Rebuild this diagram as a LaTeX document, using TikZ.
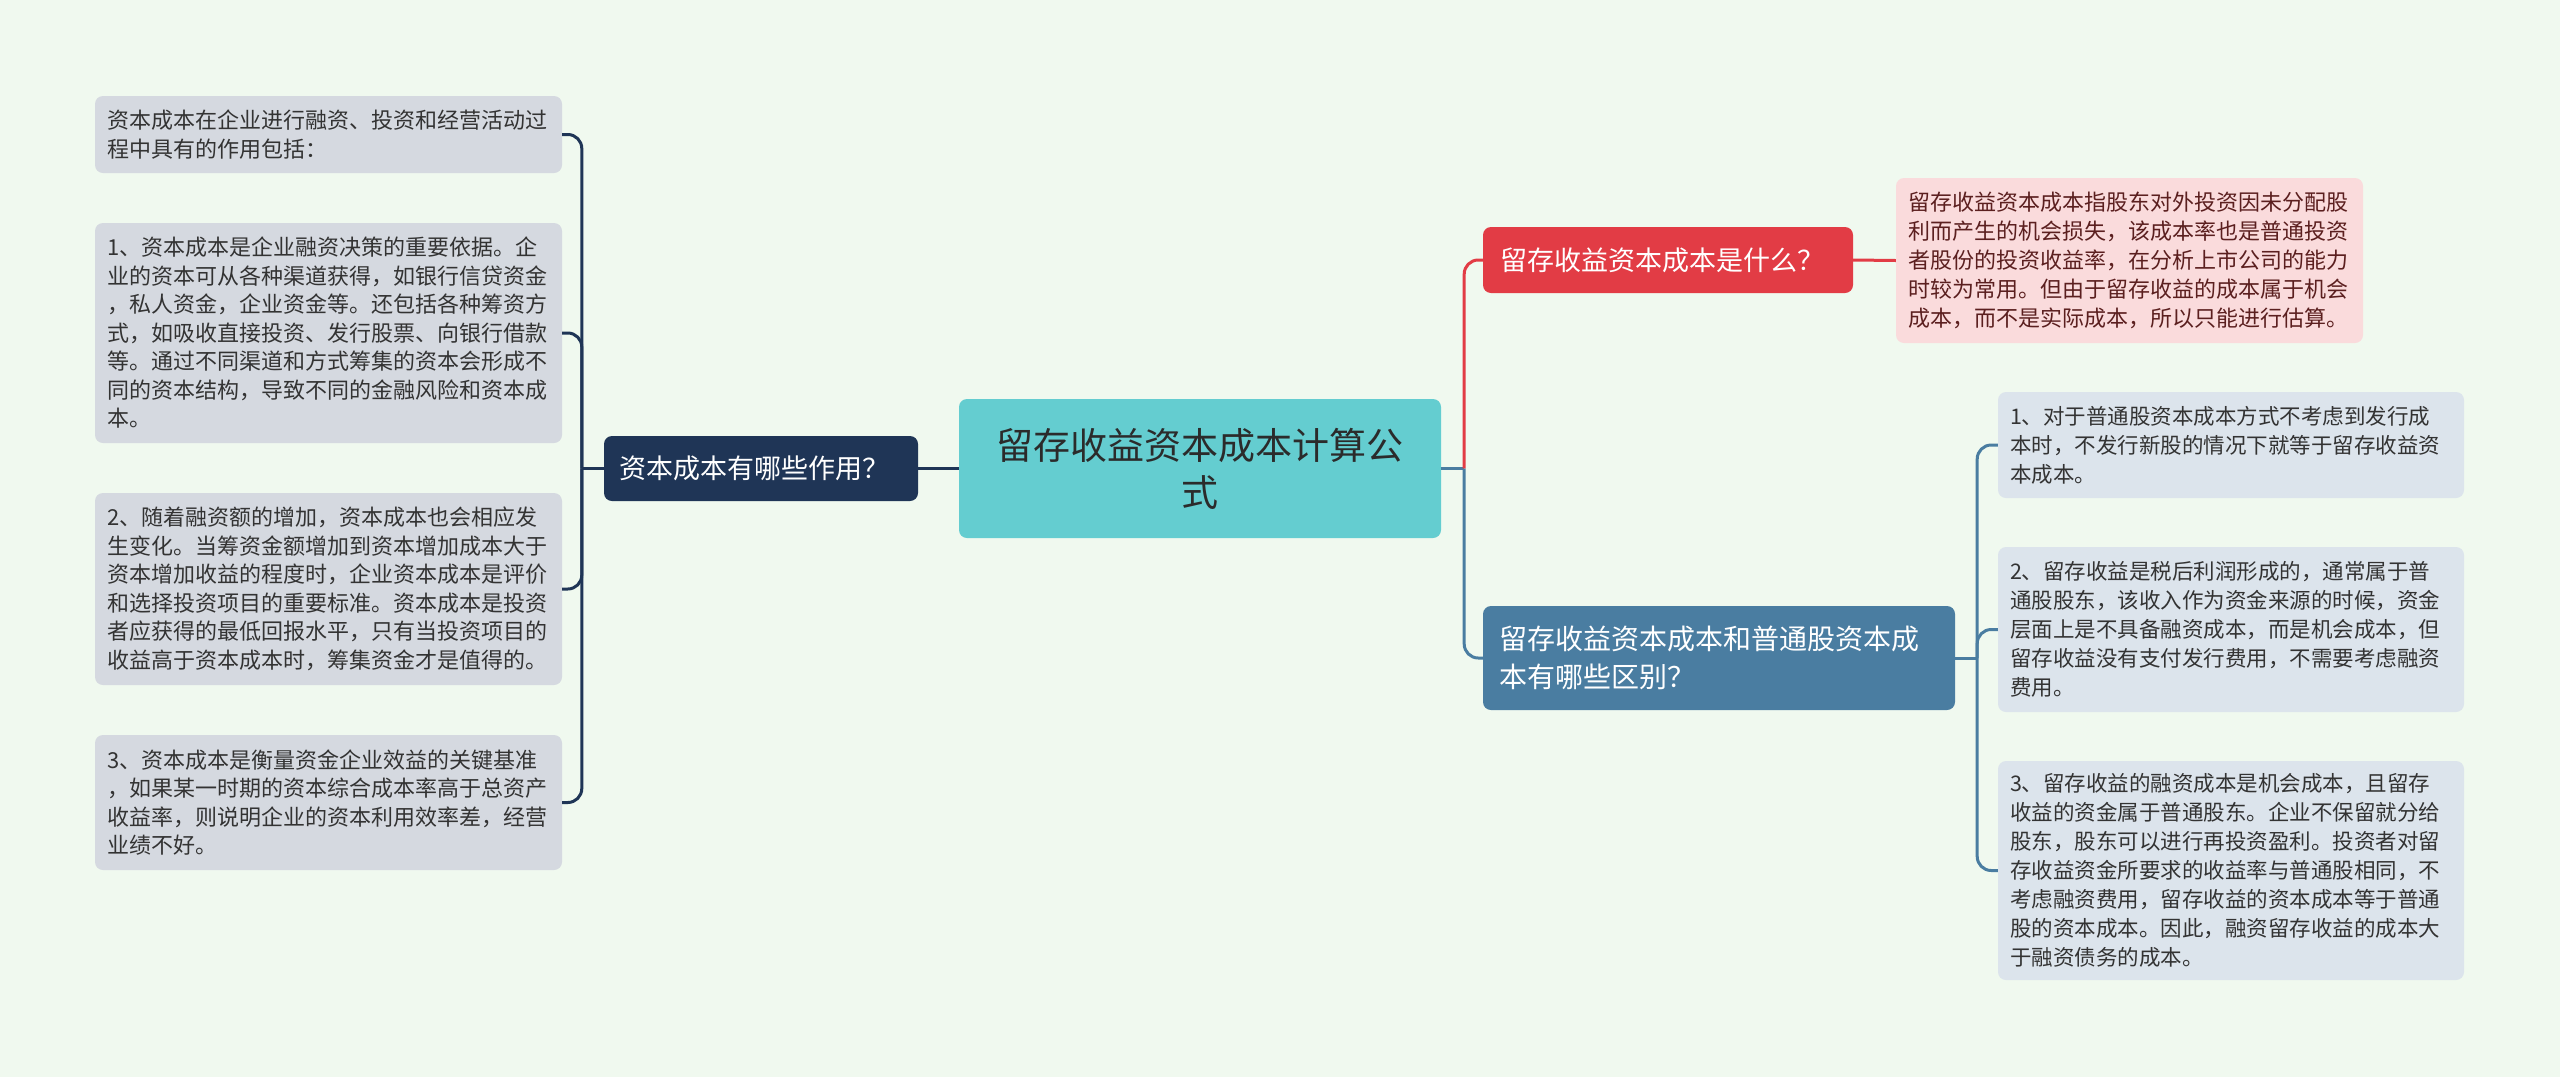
\documentclass[tikz,border=0pt]{standalone}
\usepackage{fontspec}
\setmainfont{Noto Sans CJK SC}
\definecolor{canvas}{HTML}{F0F9EF}
\definecolor{rootfill}{HTML}{64CDD0}
\definecolor{roottext}{HTML}{2B2B2B}
\definecolor{navy}{HTML}{1F3556}
\definecolor{greyleaf}{HTML}{D5D9E0}
\definecolor{redbranch}{HTML}{E23C45}
\definecolor{pinkleaf}{HTML}{FADBDC}
\definecolor{pinktext}{HTML}{5B1F1F}
\definecolor{bluebranch}{HTML}{4A7DA1}
\definecolor{blueleaf}{HTML}{DCE4EC}
\definecolor{leaftext}{HTML}{333333}
\tikzset{
  box/.style={rounded corners=8pt, inner ysep=0pt, anchor=center},
  rootbox/.style={box, fill=rootfill, text=roottext, font=\fontsize{37}{47}\selectfont,
                  text width=440pt, align=center, inner xsep=21pt, minimum height=139pt},
  navybox/.style={box, fill=navy, text=white, font=\fontsize{27}{36}\selectfont,
                  text width=284pt, align=left, inner xsep=15pt, minimum height=65pt},
  redbox/.style={box, fill=redbranch, text=white, font=\fontsize{27}{36}\selectfont,
                 text width=336pt, align=left, inner xsep=17pt, minimum height=66pt},
  bluebox/.style={box, fill=bluebranch, text=white, font=\fontsize{28}{38}\selectfont,
                  text width=440pt, align=left, inner xsep=16pt, minimum height=104pt},
  greybox/.style={box, fill=greyleaf, text=leaftext, font=\fontsize{22}{28.5}\selectfont,
                  text width=443pt, align=left, inner xsep=12pt},
  pinkbox/.style={box, fill=pinkleaf, text=pinktext, font=\fontsize{22}{29}\selectfont,
                  text width=443pt, align=left, inner xsep=12pt},
  paleblue/.style={box, fill=blueleaf, text=leaftext, font=\fontsize{21.5}{29}\selectfont,
                   text width=442pt, align=left, inner xsep=12pt},
  link/.style={line width=3pt},
  elbow/.style={link, rounded corners=14pt},
}

\begin{document}
\begin{tikzpicture}[x=1pt, y=-1pt]
    \useasboundingbox (0,0) rectangle (2560,1077);
    \fill[canvas] (0,0) rectangle (2560,1077);

    \node[rootbox] (root) at (1200, 468.5) {留存收益资本成本计算公\\式};

    \node[navybox] (q1) at (761, 468.5) {资本成本有哪些作用？};
    \node[greybox, minimum height=77pt] (l0) at (328.5, 134.5)
      {资本成本在企业进行融资、投资和经营活动过\\程中具有的作用包括：};
    \node[greybox, minimum height=220pt] (l1) at (328.5, 333)
      {1、资本成本是企业融资决策的重要依据。企\\业的资本可从各种渠道获得，如银行信贷资金\\，私人资金，企业资金等。还包括各种筹资方\\式，如吸收直接投资、发行股票、向银行借款\\等。通过不同渠道和方式筹集的资本会形成不\\同的资本结构，导致不同的金融风险和资本成\\本。};
    \node[greybox, minimum height=192pt] (l2) at (328.5, 589)
      {2、随着融资额的增加，资本成本也会相应发\\生变化。当筹资金额增加到资本增加成本大于\\资本增加收益的程度时，企业资本成本是评价\\和选择投资项目的重要标准。资本成本是投资\\者应获得的最低回报水平，只有当投资项目的\\收益高于资本成本时，筹集资金才是值得的。};
    \node[greybox, minimum height=135pt] (l3) at (328.5, 802.5)
      {3、资本成本是衡量资金企业效益的关键基准\\，如果某一时期的资本综合成本率高于总资产\\收益率，则说明企业的资本利用效率差，经营\\业绩不好。};

    \node[redbox] (q2) at (1668, 260) {留存收益资本成本是什么？};
    \node[pinkbox, minimum height=165pt] (p1) at (2129.5, 260.5)
      {留存收益资本成本指股东对外投资因未分配股\\利而产生的机会损失，该成本率也是普通投资\\者股份的投资收益率，在分析上市公司的能力\\时较为常用。但由于留存收益的成本属于机会\\成本，而不是实际成本，所以只能进行估算。};

    \node[bluebox] (q3) at (1719, 658) {留存收益资本成本和普通股资本成\\本有哪些区别？};
    \node[paleblue, minimum height=106pt] (r1) at (2231, 445)
      {1、对于普通股资本成本方式不考虑到发行成\\本时，不发行新股的情况下就等于留存收益资\\本成本。};
    \node[paleblue, minimum height=165pt] (r2) at (2231, 629.5)
      {2、留存收益是税后利润形成的，通常属于普\\通股股东，该收入作为资金来源的时候，资金\\层面上是不具备融资成本，而是机会成本，但\\留存收益没有支付发行费用，不需要考虑融资\\费用。};
    \node[paleblue, minimum height=219pt] (r3) at (2231, 870.5)
      {3、留存收益的融资成本是机会成本，且留存\\收益的资金属于普通股东。企业不保留就分给\\股东，股东可以进行再投资盈利。投资者对留\\存收益资金所要求的收益率与普通股相同，不\\考虑融资费用，留存收益的资本成本等于普通\\股的资本成本。因此，融资留存收益的成本大\\于融资债务的成本。};

    \coordinate (lj) at ([xshift=-22pt]q1.west);
    \coordinate (rj) at ([xshift=23pt]root.east);
    \coordinate (bj) at ([xshift=22pt]q3.east);

    \draw[link, navy] (root.west) -- (q1.east);
    \draw[link, navy] (q1.west) -- (lj);
    \foreach \leaf in {l0, l1, l2, l3}
      \draw[elbow, navy] (lj) |- (\leaf.east);

    \draw[link, bluebranch] (root.east) -- (rj);
    \draw[elbow, redbranch] (rj) |- (q2.west);
    \draw[link, redbranch] (q2.east) -- (p1.west);

    \draw[elbow, bluebranch] (rj) |- (q3.west);
    \draw[link, bluebranch] (q3.east) -- (bj);
    \foreach \leaf in {r1, r2, r3}
      \draw[elbow, bluebranch] (bj) |- (\leaf.west);
\end{tikzpicture}
\end{document}
